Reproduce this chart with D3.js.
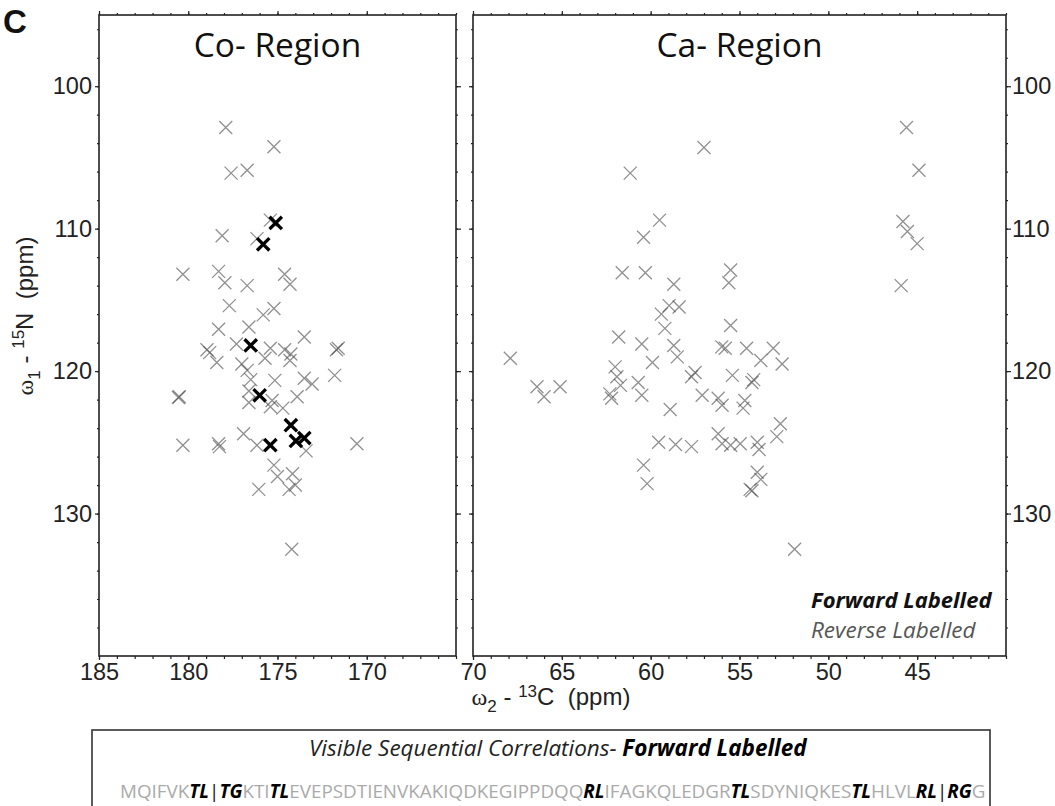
<!DOCTYPE html>
<html><head><meta charset="utf-8">
<script src="https://cdn.jsdelivr.net/npm/d3@7"></script>
<style>body{margin:0;background:#fff}svg{display:block}</style>
</head><body>
<svg id="c" width="1055" height="806"></svg>
<script>
// ---- data (ppm) ----
const coForward = [[175.1,109.6],[175.8,111.1],[176.5,118.2],[176.0,121.7],[174.25,123.8],[175.4,125.2],[173.97,124.9],[173.5,124.7]];
const coReverse = [[177.9,102.9],[175.2,104.25],[177.6,106.1],[176.7,105.9],[178.1,110.5],[176.15,110.7],[175.4,109.4],
 [180.3,113.2],[178.3,113.0],[177.95,113.8],[176.7,114.0],[174.6,113.2],[174.3,113.9],
 [177.7,115.4],[175.2,115.6],[175.8,116.05],[178.3,117.06],[176.6,116.9],[173.5,117.6],[171.6,118.4],
 [180.5,121.8],[180.55,121.85],[180.3,125.2],[178.95,118.5],[178.8,118.7],[178.4,119.4],[178.3,125.1],[178.25,125.3],
 [177.3,118.1],[177.0,119.5],[176.7,119.95],[176.5,120.6],[176.6,121.4],[176.6,122.2],[176.9,124.4],[176.15,125.2],
 [175.7,119.1],[175.4,118.4],[175.15,120.65],[175.3,122.06],[175.4,122.5],[174.7,122.6],[174.6,118.5],[174.3,119.25],
 [174.25,118.8],[173.9,121.8],[173.5,120.5],[173.06,120.9],[171.7,118.5],[171.8,120.3],[170.55,125.1],[175.2,126.6],
 [175.0,127.4],[176.05,128.3],[174.16,127.2],[174.0,128.0],[174.35,128.3],[173.4,125.6],[174.2,132.5]];
const caReverse = [[45.6,102.9],[57.0,104.3],[61.15,106.1],[44.9,105.9],[59.5,109.4],[60.4,110.6],[45.8,109.5],[45.55,110.2],
 [45.0,111.05],[61.6,113.1],[60.3,113.1],[58.7,113.9],[55.5,112.9],[55.6,113.8],[45.9,114.0],[59.4,116.0],[58.96,115.4],
 [58.4,115.5],[59.2,117.0],[55.5,116.8],[61.8,117.6],[60.5,118.1],[58.7,118.2],[56.0,118.3],[55.8,118.4],[54.6,118.4],
 [53.1,118.4],[67.9,119.1],[58.5,119.0],[59.9,119.4],[62.0,119.7],[61.9,120.4],[60.7,120.8],[60.5,121.7],[62.3,121.6],
 [62.2,121.9],[61.7,121.0],[66.4,121.1],[66.0,121.8],[65.1,121.1],[58.9,122.7],[57.7,120.4],[57.5,120.1],[57.1,121.7],
 [53.8,119.25],[52.6,119.5],[55.4,120.3],[54.3,120.8],[54.2,120.6],[56.2,121.9],[55.98,122.4],[54.7,122.06],[54.8,122.6],
 [52.7,123.7],[52.9,124.6],[56.2,124.4],[55.98,125.1],[55.5,125.2],[54.96,125.1],[59.55,125.0],[58.6,125.15],[57.7,125.3],
 [54.0,125.0],[53.9,125.5],[60.4,126.6],[60.2,127.9],[54.0,127.1],[53.8,127.6],[54.4,128.3],[54.3,128.4],[51.9,132.5]];
const coTicks = [185,180,175,170];
const caTicks = [70,65,60,55,50,45];
const nTicks = [100,110,120,130];
const panelTitles = ["Co- Region","Ca- Region"];
const legendLabels = ["Forward Labelled","Reverse Labelled"];
const seqTitle = ["Visible Sequential Correlations-","Forward Labelled"];
// sequence segments: [text, kind] 0 = plain grey, 1 = bold italic, 2 = separator
const seqSegments = [["MQIFVK",0],["TL",1],["|",2],["TG",1],["KTI",0],["TL",1],["EVEPSDTIENVKAKIQDKEGIPPDQQ",0],["RL",1],
 ["IFAGKQLEDGR",0],["TL",1],["SDYNIQKES",0],["TL",1],["HLVL",0],["RL",1],["|",2],["RG",1],["G",0]];

const svg = d3.select("#c");
const y = d3.scaleLinear().domain([95,140]).range([15,656]);
const xCo = d3.scaleLinear().domain([185,165]).range([99,456]);
const xCa = d3.scaleLinear().domain([70,40]).range([473,1006]);
const tickFont = "'Liberation Sans', Arial, sans-serif";
const myriad = "'Open Sans', 'Noto Sans', sans-serif";

function styleAxis(g){
  g.select(".domain").remove();
  g.selectAll("line").attr("stroke","#222").attr("stroke-width",1.2);
  g.selectAll("text").attr("font-family",tickFont).attr("font-size",23.5).attr("fill","#222");
}
function drawPanel(x, xt, leftLabels, rightLabels, title){
  const [x0,x1] = x.range();
  const [y0,y1] = y.range();
  const d = x.domain();
  const minorX = d3.range(Math.min(...d), Math.max(...d)+0.001, 1);
  const minorY = d3.range(96,140,2);
  svg.append("g").attr("transform",`translate(0,${y1})`).call(d3.axisBottom(x).tickValues(minorX).tickSize(3).tickFormat("")).call(styleAxis);
  svg.append("g").attr("transform",`translate(0,${y1})`).call(d3.axisBottom(x).tickValues(xt).tickSize(4).tickPadding(3)).call(styleAxis);
  svg.append("g").attr("transform",`translate(0,${y0})`).call(d3.axisTop(x).tickValues(minorX).tickSize(2).tickFormat("")).call(styleAxis);
  svg.append("g").attr("transform",`translate(0,${y0})`).call(d3.axisTop(x).tickValues(xt).tickSize(4).tickFormat("")).call(styleAxis);
  svg.append("g").attr("transform",`translate(${x0},0)`).call(d3.axisLeft(y).tickValues(minorY).tickSize(2).tickFormat("")).call(styleAxis);
  svg.append("g").attr("transform",`translate(${x0},0)`).call(d3.axisLeft(y).tickValues(nTicks).tickSize(4).tickPadding(3).tickFormat(leftLabels? d3.format("d") : "")).call(styleAxis);
  svg.append("g").attr("transform",`translate(${x1},0)`).call(d3.axisRight(y).tickValues(minorY).tickSize(2).tickFormat("")).call(styleAxis);
  svg.append("g").attr("transform",`translate(${x1},0)`).call(d3.axisRight(y).tickValues(nTicks).tickSize(5).tickPadding(1).tickFormat(rightLabels? d3.format("d") : "")).call(styleAxis);
  svg.append("rect").attr("x",x0).attr("y",y0).attr("width",x1-x0).attr("height",y1-y0)
     .attr("fill","none").attr("stroke","#222").attr("stroke-width",1.6);
  svg.append("text").attr("x",(x0+x1)/2).attr("y",57).attr("text-anchor","middle")
     .attr("font-family",myriad).attr("font-size",33.5).attr("fill","#111").text(title);
}
drawPanel(xCo, coTicks, true, false, panelTitles[0]);
drawPanel(xCa, caTicks, false, true, panelTitles[1]);

function crosses(data, x, color, width, s){
  svg.append("g").selectAll("path").data(data).join("path")
    .attr("d", d => { const cx = x(d[0]), cy = y(d[1]);
      return `M${cx-s},${cy-s}L${cx+s},${cy+s}M${cx-s},${cy+s}L${cx+s},${cy-s}`; })
    .attr("fill","none").attr("stroke",color).attr("stroke-width",width);
}
crosses(coReverse, xCo, "rgba(70,70,70,0.6)", 1.3, 6.5);
crosses(caReverse, xCa, "rgba(70,70,70,0.6)", 1.3, 6.5);
crosses(coForward, xCo, "#000", 3.3, 6.2);

// legend
svg.append("text").attr("x",811).attr("y",608).attr("font-family",myriad).attr("font-size",22)
   .attr("font-style","italic").attr("font-weight","bold").attr("fill","#111").text(legendLabels[0]);
svg.append("text").attr("x",811).attr("y",638).attr("font-family",myriad).attr("font-size",22.5)
   .attr("font-style","italic").attr("fill","#555").text(legendLabels[1]);

// panel letter
svg.append("text").attr("x",3).attr("y",33).attr("font-family","'Liberation Sans', Arial, sans-serif").attr("font-weight","bold")
   .attr("font-size",33).attr("fill","#111").text("C");

// axis titles
const xl = svg.append("text").attr("x",551).attr("y",705).attr("text-anchor","middle")
   .attr("font-family",tickFont).attr("font-size",24).attr("fill","#222").style("white-space","pre");
xl.append("tspan").attr("font-family","'Liberation Serif','DejaVu Serif',serif").text("ω");
xl.append("tspan").attr("dy",7).attr("font-size",17).text("2");
xl.append("tspan").attr("dy",-7).text(" - ");
xl.append("tspan").attr("dy",-8).attr("font-size",17).text("13");
xl.append("tspan").attr("dy",8).text("C  (ppm)");

const yl = svg.append("text").attr("transform","translate(33,316) rotate(-90)").attr("text-anchor","middle")
   .attr("font-family",tickFont).attr("font-size",24).attr("fill","#222").style("white-space","pre");
yl.append("tspan").attr("font-family","'Liberation Serif','DejaVu Serif',serif").text("ω");
yl.append("tspan").attr("dy",7).attr("font-size",17).text("1");
yl.append("tspan").attr("dy",-7).text(" - ");
yl.append("tspan").attr("dy",-9).attr("font-size",17).text("15");
yl.append("tspan").attr("dy",9).text("N  (ppm)");

// sequence box
svg.append("rect").attr("x",92).attr("y",730).attr("width",898).attr("height",90)
   .attr("fill","none").attr("stroke","#333").attr("stroke-width",1.6);
const st = svg.append("text").attr("x",309).attr("y",756).attr("font-family",myriad).attr("font-size",22.5)
   .attr("font-style","italic").attr("fill","#222").style("white-space","pre");
st.append("tspan").text(seqTitle[0]);
st.append("tspan").attr("font-weight","bold").attr("fill","#000").text(" " + seqTitle[1]);
{ const w = st.node().getComputedTextLength(); st.attr("font-size", 22.5 * 498 / w); }

const sq = svg.append("text").attr("x",120).attr("y",798).attr("font-family",myriad).attr("font-size",20)
   .style("white-space","pre");
sq.selectAll("tspan").data(seqSegments).join("tspan")
   .attr("fill", d => d[1]===2 ? "#111" : (d[1] ? "#000" : "#aaa"))
   .attr("font-weight", d => d[1]===1 ? "bold" : "normal")
   .attr("font-style", d => d[1]===1 ? "italic" : "normal")
   .text(d => d[0]);
{ const w = sq.node().getComputedTextLength(); sq.attr("font-size", 20 * 866 / w); }
</script>
</body></html>
